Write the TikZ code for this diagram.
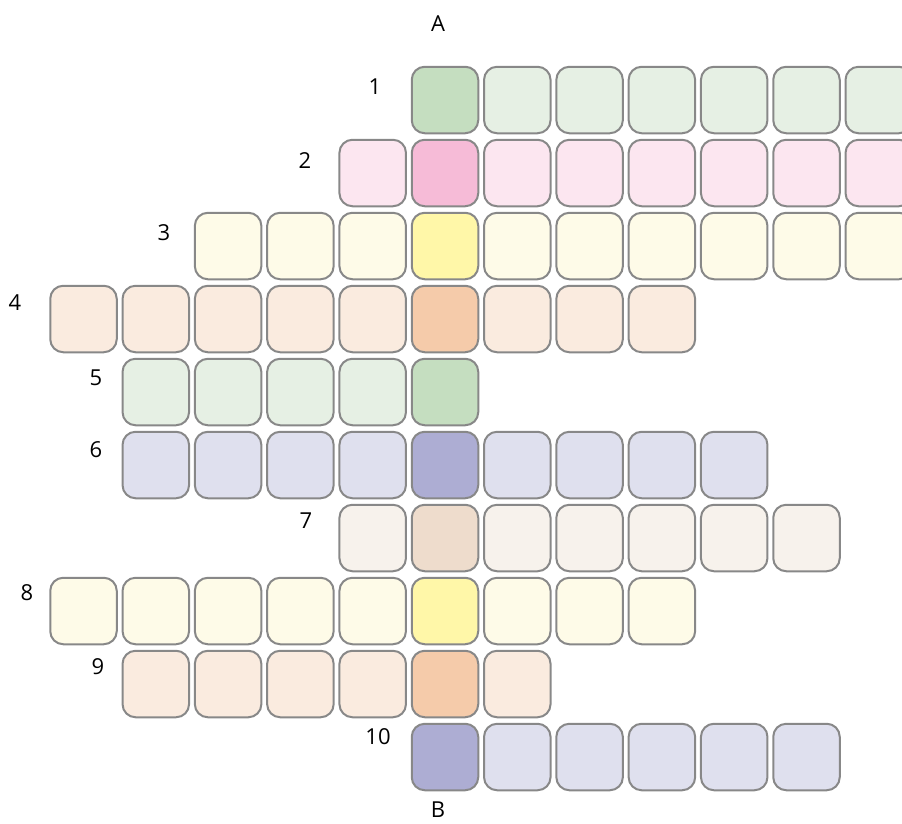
\documentclass[tikz,border=0pt]{standalone}
\usepackage{fontspec}
\setmainfont{Open Sans}
\definecolor{gL}{HTML}{E6F0E4}
\definecolor{gD}{HTML}{C5DEC0}
\definecolor{pL}{HTML}{FCE6F0}
\definecolor{pD}{HTML}{F6BBD7}
\definecolor{yL}{HTML}{FEFBE8}
\definecolor{yD}{HTML}{FFF7A8}
\definecolor{oL}{HTML}{FAEBDF}
\definecolor{oD}{HTML}{F5CBAA}
\definecolor{vL}{HTML}{DFE0EE}
\definecolor{vD}{HTML}{ADADD3}
\definecolor{bL}{HTML}{F7F2EC}
\definecolor{bD}{HTML}{EEDCCC}
\definecolor{cellborder}{HTML}{888888}
\begin{document}
\begin{tikzpicture}[x=1pt,y=-1pt,
  cell/.style={draw=cellborder, line width=2pt, rounded corners=13pt,
    minimum width=66.5pt, minimum height=66.5pt, inner sep=0pt},
  lbl/.style={font=\fontsize{22}{25}\selectfont, text=black, inner sep=0pt}]
\useasboundingbox (0,0) rectangle (902,823);
\begin{scope}
\clip (0,0) rectangle (902,823);
\foreach \r/\a/\b/\lc/\dc in {1/0/6/gL/gD, 2/-1/6/pL/pD, 3/-3/6/yL/yD,
  4/-5/3/oL/oD, 5/-4/0/gL/gD, 6/-4/4/vL/vD, 7/-1/5/bL/bD, 8/-5/3/yL/yD,
  9/-4/1/oL/oD, 10/0/5/vL/vD} {
  \foreach \c in {\a,...,\b} {
    \pgfmathsetmacro\n{int(\c+5)}
    \ifnum\c=0 \def\fc{\dc}\else\def\fc{\lc}\fi
    \node[cell, fill=\fc] (r\r c\n) at ({445+72.3*\c}, {100+73*(\r-1)}) {};
  }
}
\end{scope}
\node[lbl] (lA) at (438,24) {A};
\node[lbl] (l1) at (375,87) {1};
\node[lbl] (l2) at (305,161) {2};
\node[lbl] (l3) at (164,233) {3};
\node[lbl] (l4) at (15,303) {4};
\node[lbl] (l5) at (96,378) {5};
\node[lbl] (l6) at (96,450) {6};
\node[lbl] (l7) at (306,521) {7};
\node[lbl] (l8) at (27,593) {8};
\node[lbl] (l9) at (98,667) {9};
\node[lbl] (l10) at (378,737) {10};
\node[lbl] (lB) at (438,810) {B};
\end{tikzpicture}
\end{document}
